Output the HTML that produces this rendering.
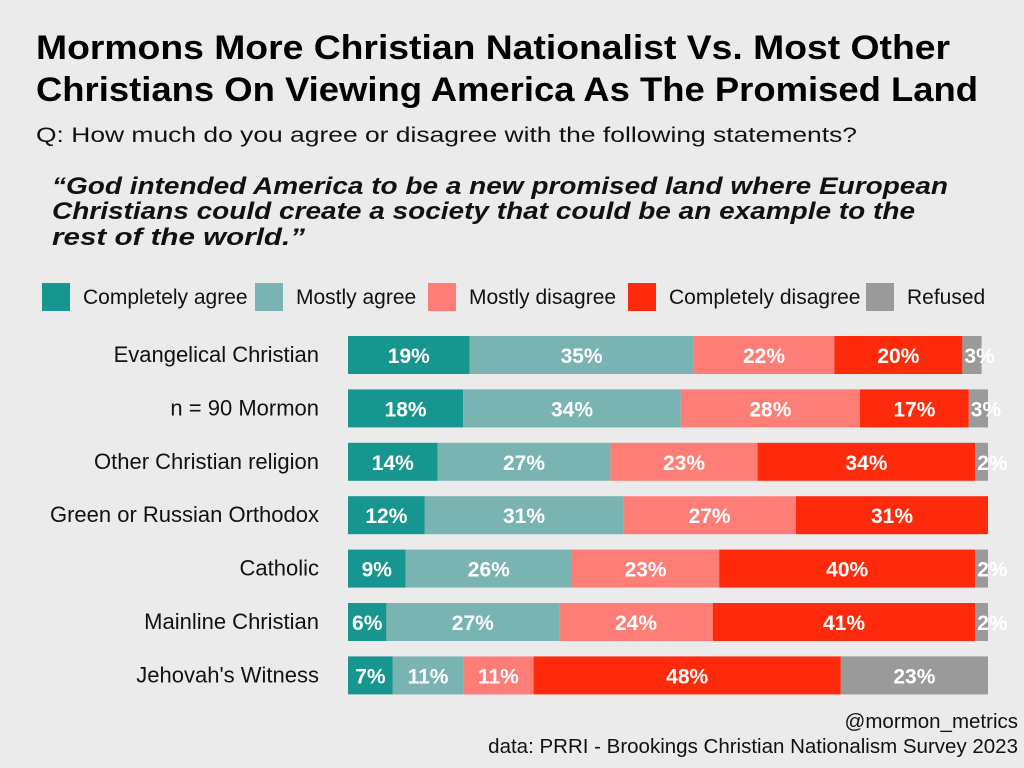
<!DOCTYPE html>
<html><head><meta charset="utf-8"><style>
body{margin:0;background:#ebebeb;}
svg{display:block;font-family:"Liberation Sans",sans-serif;}
</style></head><body>
<svg width="1024" height="768">
<rect width="1024" height="768" fill="#ebebeb"/>
<text x="36" y="59" font-size="34" font-weight="bold" fill="#000" textLength="914" lengthAdjust="spacingAndGlyphs">Mormons More Christian Nationalist Vs. Most Other</text>
<text x="36" y="101" font-size="34" font-weight="bold" fill="#000" textLength="942" lengthAdjust="spacingAndGlyphs">Christians On Viewing America As The Promised Land</text>
<text x="36" y="142" font-size="21" fill="#111" textLength="821" lengthAdjust="spacingAndGlyphs">Q: How much do you agree or disagree with the following statements?</text>
<g font-size="24" font-weight="bold" font-style="italic" fill="#111">
<text x="52" y="194" textLength="896" lengthAdjust="spacingAndGlyphs">“God intended America to be a new promised land where European</text>
<text x="52" y="219" textLength="863" lengthAdjust="spacingAndGlyphs">Christians could create a society that could be an example to the</text>
<text x="52" y="245" textLength="253" lengthAdjust="spacingAndGlyphs">rest of the world.”</text>
</g>
<g id="legend"></g>
<g id="bars"></g>
<text x="1018" y="728" font-size="20.5" text-anchor="end" fill="#111">@mormon_metrics</text>
<text x="1018" y="753" font-size="20.5" text-anchor="end" fill="#111">data: PRRI - Brookings Christian Nationalism Survey 2023</text>
</svg>
<script>
const categories=["Evangelical Christian","n = 90 Mormon","Other Christian religion","Green or Russian Orthodox","Catholic","Mainline Christian","Jehovah's Witness"];
const seriesNames=["Completely agree","Mostly agree","Mostly disagree","Completely disagree","Refused"];
const completelyAgree=[19,18,14,12,9,6,7];
const mostlyAgree=[35,34,27,31,26,27,11];
const mostlyDisagree=[22,28,23,27,23,24,11];
const completelyDisagree=[20,17,34,31,40,41,48];
const refused=[3,3,2,0,2,2,23];
const series=[completelyAgree,mostlyAgree,mostlyDisagree,completelyDisagree,refused];
const colors=["#17958f","#79b4b3","#fe7e77","#ff2a0b","#9a9a9a"];
const NS="http://www.w3.org/2000/svg";
const x0=348,pxPer=6.4,xMax=988;
function xs(v){return Math.min(xMax,x0+v*pxPer);}
function ys(i){return 355+i*53.4;}
function mk(tag,attrs,parent){const e=document.createElementNS(NS,tag);for(const k in attrs)e.setAttribute(k,attrs[k]);parent.appendChild(e);return e;}
const lg=document.getElementById('legend');
const lsq=[42,255,428,628,866];
seriesNames.forEach((n,i)=>{
 const r=mk('rect',{x:lsq[i],y:283,width:28,height:28,fill:colors[i]},lg);
 
 
 const t=mk('text',{x:lsq[i]+41,y:304,'font-size':21,fill:'#111'},lg);
 t.textContent=n;
 
 
});
const bg=document.getElementById('bars');
categories.forEach((c,i)=>{
 const y=ys(i);
 const lab=mk('text',{x:319,y:y+7,'font-size':22,'text-anchor':'end',fill:'#111'},bg);
 lab.textContent=c;
 
 
 let cum=0;
 series.forEach((s,k)=>{
  const v=s[i];if(!v)return;
  const a=xs(cum),b=xs(cum+v);cum+=v;
  const r=mk('rect',{x:a,y:y-19,width:Math.max(0,b-a),height:38,fill:colors[k]},bg);
  
  
  const t=mk('text',{x:(a+b)/2,y:y+8,'font-size':21,'font-weight':'bold','text-anchor':'middle',fill:'#fff'},bg);
  if(v<5){t.setAttribute('x',a+2);t.setAttribute('text-anchor','start');}
  t.textContent=v+'%';
  
  
 });
});
</script>
</body></html>
